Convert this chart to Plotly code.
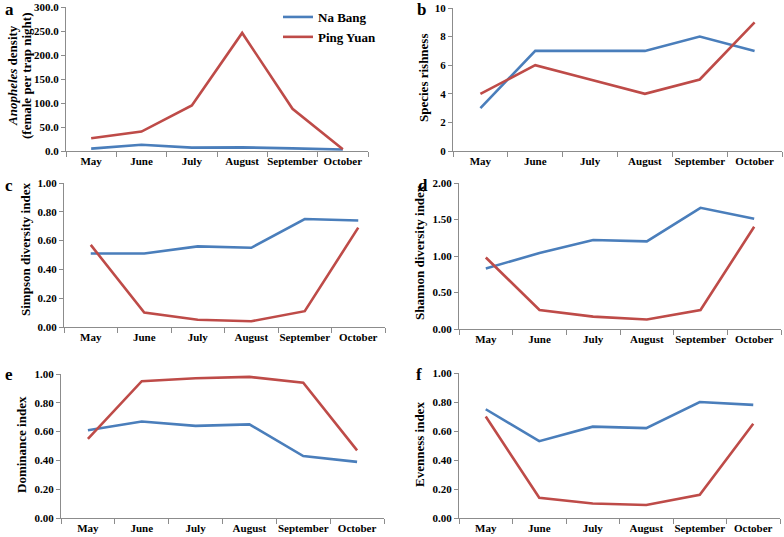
import plotly.graph_objects as go

months = ["May", "June", "July", "August", "September", "October"]
series_names = ["Na Bang", "Ping Yuan"]

density_nb = [5, 13, 7, 7.5, 5.5, 3]
density_py = [26.5, 40.5, 95, 246, 88, 3.5]
richness_nb = [3, 7, 7, 7, 8, 7]
richness_py = [4, 6, 5, 4, 5, 9]
simpson_nb = [0.51, 0.51, 0.56, 0.55, 0.75, 0.74]
simpson_py = [0.57, 0.10, 0.05, 0.04, 0.11, 0.69]
shannon_nb = [0.83, 1.04, 1.22, 1.20, 1.66, 1.51]
shannon_py = [0.98, 0.26, 0.17, 0.13, 0.26, 1.40]
dominance_nb = [0.61, 0.67, 0.64, 0.65, 0.43, 0.39]
dominance_py = [0.55, 0.95, 0.97, 0.98, 0.94, 0.47]
evenness_nb = [0.75, 0.53, 0.63, 0.62, 0.80, 0.78]
evenness_py = [0.70, 0.14, 0.10, 0.09, 0.16, 0.65]

W, H = 784, 537
BLUE = "#4A7EBB"
RED = "#BE4B48"
FONT = "Liberation Serif"

panels = [
    ("a", density_nb, density_py, [0, 300], 50, ".1f",
     ["<i>Anopheles</i> density", "(female per trap night)"], (66, 368, 7, 151), (13, 76), (3, 10)),
    ("b", richness_nb, richness_py, [0, 10], 2, "d",
     ["Species rishness"], (453, 782, 8, 151), (424, 78), (415, 10)),
    ("c", simpson_nb, simpson_py, [0, 1], 0.2, ".2f",
     ["Simpson diversity index"], (64, 385, 183, 327), (25, 250), (3, 185)),
    ("d", shannon_nb, shannon_py, [0, 2], 0.5, ".2f",
     ["Shannon diversity index"], (459, 781, 183, 329), (419, 253), (416, 185)),
    ("e", dominance_nb, dominance_py, [0, 1], 0.2, ".2f",
     ["Dominance index"], (61, 384, 374, 518), (21, 445), (3, 374)),
    ("f", evenness_nb, evenness_py, [0, 1], 0.2, ".2f",
     ["Evenness index"], (459, 780, 373, 518), (419, 445), (414, 374)),
]

fig = go.Figure()
annotations = []
for i, (letter, nb, py, yr, dt, fmt, title_lines, box, tpos, lpos) in enumerate(panels):
    k = "" if i == 0 else str(i + 1)
    x0, x1, yt, yb = box
    fig.add_trace(go.Scatter(x=months, y=nb, mode="lines", name=series_names[0],
                             line=dict(color=BLUE, width=2.6), xaxis="x" + k, yaxis="y" + k,
                             showlegend=(i == 0)))
    fig.add_trace(go.Scatter(x=months, y=py, mode="lines", name=series_names[1],
                             line=dict(color=RED, width=2.6), xaxis="x" + k, yaxis="y" + k,
                             showlegend=(i == 0)))
    fig.layout["xaxis" + k] = dict(
        domain=[x0 / W, x1 / W], anchor="y" + k, type="category",
        showline=True, linecolor="#8c8c8c", linewidth=1, ticks="outside",
        tickson="boundaries", ticklen=5, tickcolor="#8c8c8c", showgrid=False,
        tickangle=0, automargin=False,
        tickfont=dict(family=FONT, size=11, color="black", weight="bold"),
        range=[-0.5, 5.5], fixedrange=True)
    fig.layout["yaxis" + k] = dict(
        domain=[1 - yb / H, 1 - yt / H], anchor="x" + k, range=yr, dtick=dt,
        tickformat=fmt, showline=True, linecolor="#8c8c8c", linewidth=1,
        ticks="outside", ticklen=4, tickcolor="#8c8c8c", showgrid=False,
        zeroline=False, automargin=False, fixedrange=True,
        tickfont=dict(family=FONT, size=11, color="black", weight="bold"))
    for j, line in enumerate(title_lines):
        annotations.append(dict(text=line, x=(tpos[0] + 14 * j) / W, y=1 - tpos[1] / H,
                                xref="paper", yref="paper", showarrow=False, textangle=-90,
                                xanchor="center", yanchor="middle",
                                font=dict(family=FONT, size=13, color="black", weight="bold")))
    annotations.append(dict(text=letter, x=lpos[0] / W, y=1 - lpos[1] / H,
                            xref="paper", yref="paper", showarrow=False,
                            xanchor="left", yanchor="middle",
                            font=dict(family=FONT, size=17, color="black", weight="bold")))

fig.update_layout(
    width=W, height=H, margin=dict(l=0, r=0, t=0, b=0, autoexpand=False),
    paper_bgcolor="white", plot_bgcolor="white",
    annotations=annotations,
    legend=dict(x=278 / W, y=1 - 2 / H, xanchor="left", yanchor="top",
                bgcolor="rgba(0,0,0,0)", tracegroupgap=0, itemwidth=30,
                font=dict(family=FONT, size=13, color="black", weight="bold")),
)
fig.write_html("out.html", config={"displayModeBar": False},
               post_script="document.body.style.margin='0';document.body.style.overflow='hidden';")
